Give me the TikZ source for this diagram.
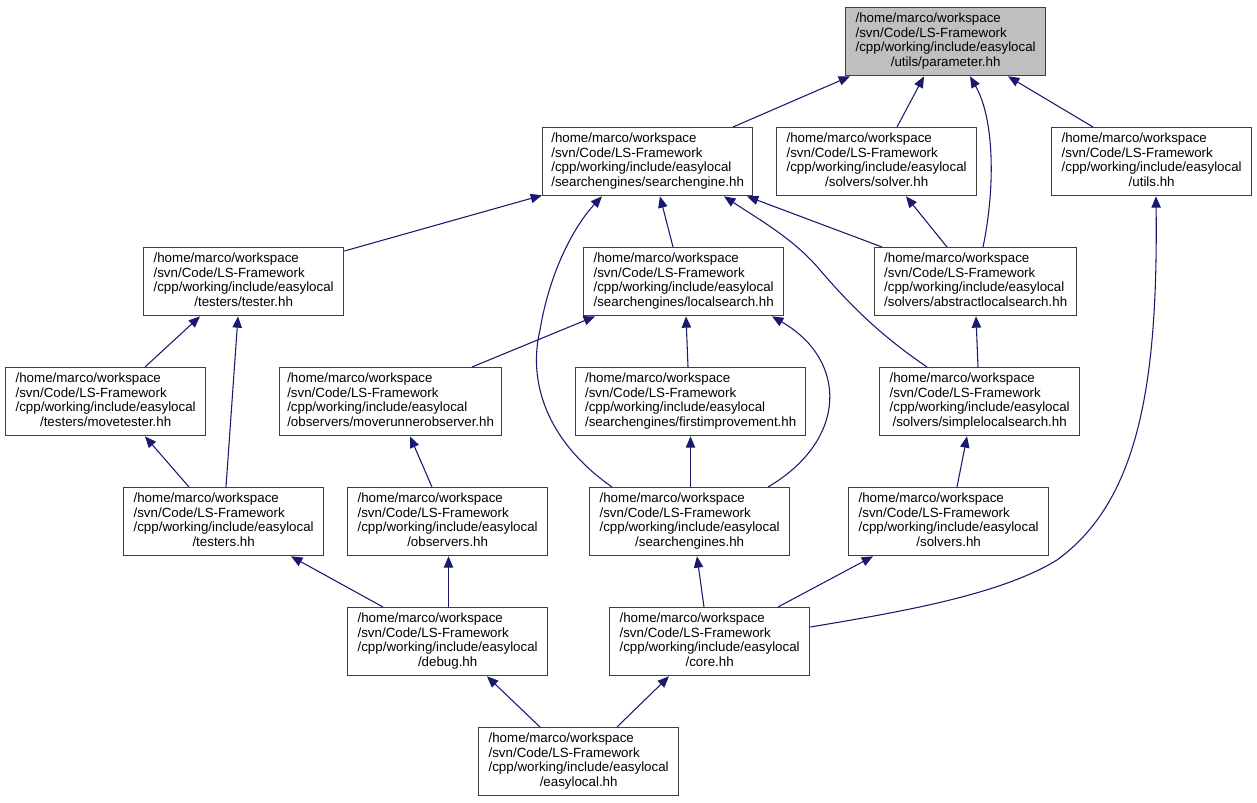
\documentclass[tikz,border=0pt]{standalone}
\usepackage{fontspec}
\setmainfont{Liberation Sans}
\usetikzlibrary{arrows.meta,calc}
\definecolor{edgeblue}{HTML}{191970}
\definecolor{boxgray}{HTML}{404040}
\definecolor{hlgray}{HTML}{BFBFBF}
\newcommand{\pathlbl}[1]{\begin{tabular}{@{}l@{}}/home/marco/workspace\\/svn/Code/LS-Framework\\/cpp/working/include/easylocal\\\multicolumn{1}{@{}c@{}}{#1}\end{tabular}}
\begin{document}
\begin{tikzpicture}[x=0.75pt,y=-0.75pt,
  fbox/.style={draw=boxgray, line width=1pt, anchor=north west, minimum height=51pt, inner sep=0pt, fill=white, font=\fontsize{10}{11}\selectfont},
  bw/.style={minimum width=#1*0.75pt},
  edge/.style={draw=edgeblue, line width=0.8pt, -{Triangle[length=8.5pt,width=7pt]}}]
\useasboundingbox[fill=white] (0,0) rectangle (1257,803);

\node[fbox,bw=200,fill=hlgray] (param) at (845,7) {\pathlbl{/utils/parameter.hh}};
\node[fbox,bw=210] (se) at (542,127) {\pathlbl{/searchengines/searchengine.hh}};
\node[fbox,bw=200] (solver) at (776,127) {\pathlbl{/solvers/solver.hh}};
\node[fbox,bw=200] (utils) at (1051,127) {\pathlbl{/utils.hh}};
\node[fbox,bw=200] (tester) at (143,247) {\pathlbl{/testers/tester.hh}};
\node[fbox,bw=200] (ls) at (583,247) {\pathlbl{/searchengines/localsearch.hh}};
\node[fbox,bw=202] (als) at (874,247) {\pathlbl{/solvers/abstractlocalsearch.hh}};
\node[fbox,bw=200] (movetester) at (5,367) {\pathlbl{/testers/movetester.hh}};
\node[fbox,bw=222] (mro) at (279,367) {\pathlbl{/observers/moverunnerobserver.hh}};
\node[fbox,bw=230] (fi) at (575,367) {\pathlbl{/searchengines/firstimprovement.hh}};
\node[fbox,bw=200] (sls) at (879,367) {\pathlbl{/solvers/simplelocalsearch.hh}};
\node[fbox,bw=200] (testers) at (123,487) {\pathlbl{/testers.hh}};
\node[fbox,bw=200] (observers) at (347,487) {\pathlbl{/observers.hh}};
\node[fbox,bw=200] (ses) at (589,487) {\pathlbl{/searchengines.hh}};
\node[fbox,bw=200] (solvers) at (848,487) {\pathlbl{/solvers.hh}};
\node[fbox,bw=200] (debug) at (347,607) {\pathlbl{/debug.hh}};
\node[fbox,bw=200] (core) at (609,607) {\pathlbl{/core.hh}};
\node[fbox,bw=200] (easylocal) at (478,727) {\pathlbl{/easylocal.hh}};

% edges (arrowhead at the included file)
\draw[edge] ($(se.north west)+(191,0)$) -- ($(param.south west)+(5,0)$);
\draw[edge] ($(solver.north west)+(121,0)$) -- ($(param.south west)+(79,0)$);
\draw[edge] ($(als.north west)+(109,0)$) .. controls (995,190) and (995,120) .. ($(param.south west)+(125,0)$);
\draw[edge] ($(utils.north west)+(42,0)$) -- ($(param.south west)+(163,0)$);

\draw[edge] ($(tester.north east)+(0,4)$) -- ($(se.south west)+(0,-1)$);
\draw[edge] ($(ls.north west)+(90,0)$) -- ($(se.south west)+(118,0)$);
\draw[edge] ($(als.north west)+(8,0)$) -- ($(se.south west)+(205,0)$);
\draw[edge] ($(sls.north west)+(48,0)$) .. controls (880,335) and (850,305) .. (820,270) .. controls (795,240) and (760,220) .. ($(se.south west)+(182,0)$);
\draw[edge] ($(ses.north west)+(23,0)$) .. controls (545,440) and (528,380) .. (540,330) .. controls (550,270) and (575,225) .. ($(se.south west)+(60,0)$);

\draw[edge] ($(als.north west)+(73,0)$) -- ($(solver.south west)+(130,0)$);
\draw[edge] ($(core.north east)+(0,20)$) .. controls (900,612) and (1000,595) .. (1057,560) .. controls (1140,500) and (1158,380) .. ($(utils.south west)+(105,0)$);

\draw[edge] ($(movetester.north west)+(140,0)$) -- ($(tester.south west)+(57,0)$);
\draw[edge] ($(testers.north west)+(103,0)$) -- ($(tester.south west)+(95,0)$);

\draw[edge] ($(mro.north west)+(193,0)$) -- ($(ls.south west)+(12,0)$);
\draw[edge] ($(fi.north west)+(113,0)$) -- ($(ls.south west)+(103,0)$);
\draw[edge] ($(ses.north west)+(179,0)$) .. controls (848,440) and (848,360) .. ($(ls.south west)+(189,0)$);

\draw[edge] ($(sls.north west)+(99,0)$) -- ($(als.south west)+(102,0)$);

\draw[edge] ($(testers.north west)+(66,0)$) -- ($(movetester.south west)+(140,0)$);
\draw[edge] ($(observers.north west)+(85,0)$) -- ($(mro.south west)+(131,0)$);
\draw[edge] ($(ses.north west)+(101.5,0)$) -- ($(fi.south west)+(115.5,0)$);
\draw[edge] ($(solvers.north west)+(109,0)$) -- ($(sls.south west)+(88,0)$);

\draw[edge] ($(debug.north west)+(36,0)$) -- ($(testers.south west)+(168,0)$);
\draw[edge] ($(debug.north west)+(101.5,0)$) -- ($(observers.south west)+(101.5,0)$);
\draw[edge] ($(core.north west)+(95,0)$) -- ($(ses.south west)+(108,0)$);
\draw[edge] ($(core.north west)+(169,0)$) -- ($(solvers.south west)+(25,0)$);

\draw[edge] ($(easylocal.north west)+(62,0)$) -- ($(debug.south west)+(140,0)$);
\draw[edge] ($(easylocal.north west)+(139,0)$) -- ($(core.south west)+(60,0)$);
\end{tikzpicture}
\end{document}
